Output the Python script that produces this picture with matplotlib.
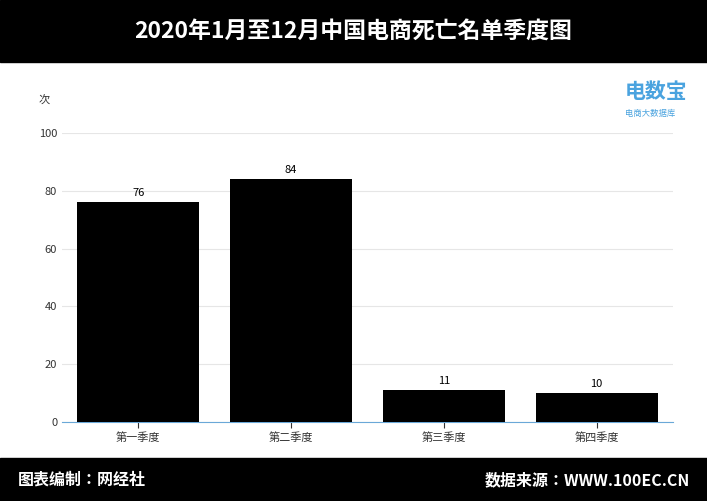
import matplotlib.pyplot as plt
from matplotlib import font_manager

# pick a CJK font that is actually available
cjk_names = [f.name for f in font_manager.fontManager.ttflist if 'CJK' in f.name]
if cjk_names:
    pref = [n for n in cjk_names if 'SC' in n] or cjk_names
    plt.rcParams['font.family'] = [pref[0], 'DejaVu Sans']
else:
    cjk_files = [f for f in font_manager.findSystemFonts() if 'CJK' in f or 'cjk' in f.lower()]
    if cjk_files:
        font_manager.fontManager.addfont(cjk_files[0])
        plt.rcParams['font.family'] = [font_manager.FontProperties(fname=cjk_files[0]).get_name(), 'DejaVu Sans']

quarters = ['第一季度', '第二季度', '第三季度', '第四季度']
counts = [76, 84, 11, 10]

fig = plt.figure(figsize=(7.07, 5.01), dpi=100)

# header and footer bands
fig.patches.append(plt.Rectangle((0, 1 - 62 / 501), 1, 62 / 501, transform=fig.transFigure, color='black', zorder=0))
fig.patches.append(plt.Rectangle((0, 0), 1, 43 / 501, transform=fig.transFigure, color='black', zorder=0))
fig.text(0.5, 1 - 31 / 501, '2020年1月至12月中国电商死亡名单季度图', color='white',
         fontsize=16.5, fontweight='bold', ha='center', va='center')
fig.text(18 / 707, 21 / 501, '图表编制：网经社', color='white', fontsize=11.5, fontweight='bold', va='center')
fig.text(690 / 707, 21 / 501, '数据来源：WWW.100EC.CN', color='white', fontsize=11.5, fontweight='bold',
         va='center', ha='right')
fig.text(625 / 707, 1 - 92 / 501, '电数宝', color='#4aa3df', fontsize=15, fontweight='bold', va='center')
fig.text(625 / 707, 1 - 113 / 501, '电商大数据库', color='#4aa3df', fontsize=6, va='center')

ax = fig.add_axes([62 / 707, 1 - 422 / 501, 611 / 707, 289 / 501])
bars = ax.bar(quarters, counts, width=0.8, color='black', zorder=3)
for b, v in zip(bars, counts):
    ax.text(b.get_x() + b.get_width() / 2, v + 1.5, str(v), ha='center', va='bottom', fontsize=8)

ax.set_ylim(0, 100)
ax.set_xlim(-0.5, 3.5)
ax.set_yticks(range(0, 101, 20))
ax.grid(axis='y', color='#e6e6e6', linewidth=0.8, zorder=0)
for s in ['top', 'right', 'left']:
    ax.spines[s].set_visible(False)
ax.spines['bottom'].set_color('#6aa8d8')
ax.tick_params(axis='y', length=0, labelsize=8, colors='#333333')
ax.tick_params(axis='x', length=4, labelsize=8, colors='#333333')
ax.text(-0.02, 1.1, '次', transform=ax.transAxes, fontsize=8, ha='right', color='#333333')

fig.savefig('out.png', dpi=100)
